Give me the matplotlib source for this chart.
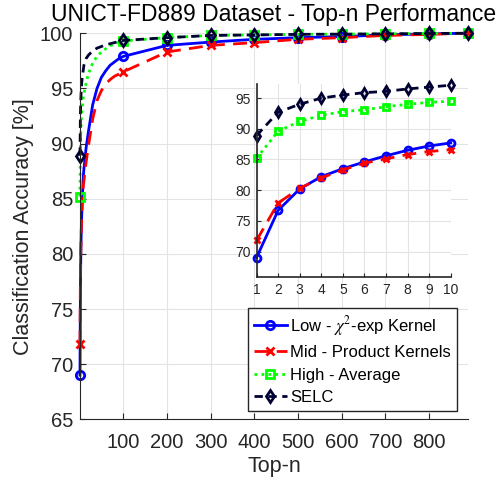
import matplotlib
matplotlib.use('Agg')
import matplotlib.pyplot as plt

plt.rcParams['font.family'] = ['Liberation Sans', 'DejaVu Sans']
plt.rcParams['mathtext.fontset'] = 'stix'

# Top-n values (1..10, the rest from the main curves)
top_n = [1, 2, 3, 4, 5, 6, 7, 8, 9, 10, 15, 20, 30, 40, 50, 60, 70, 80, 90,
         100, 200, 300, 400, 500, 600, 700, 800, 889]

acc_low = [69.0, 76.7, 80.2, 82.2, 83.5, 84.6, 85.6, 86.5, 87.2, 87.7,
           89.6, 91.0, 93.5, 95.0, 96.0, 96.6, 97.1, 97.4, 97.7,
           97.9, 98.9, 99.2, 99.45, 99.6, 99.7, 99.85, 99.95, 100.0]
acc_mid = [71.8, 77.9, 80.3, 82.0, 83.3, 84.4, 85.1, 85.8, 86.3, 86.6,
           88.3, 89.7, 92.2, 93.9, 94.8, 95.4, 95.8, 96.1, 96.3,
           96.5, 98.3, 98.9, 99.15, 99.45, 99.6, 99.8, 99.9, 100.0]
acc_high = [85.2, 89.6, 91.2, 92.2, 92.8, 93.1, 93.6, 94.0, 94.3, 94.5,
            95.5, 96.3, 97.3, 97.9, 98.3, 98.6, 98.85, 99.05, 99.2,
            99.3, 99.6, 99.8, 99.85, 99.9, 99.92, 99.95, 99.98, 100.0]
acc_selc = [88.9, 92.7, 94.0, 95.0, 95.5, 95.9, 96.1, 96.5, 96.8, 97.1,
            97.7, 98.0, 98.4, 98.65, 98.8, 98.95, 99.05, 99.15, 99.25,
            99.35, 99.6, 99.8, 99.85, 99.9, 99.92, 99.95, 99.98, 100.0]

labels = [r'Low - $\chi^2$-exp Kernel', 'Mid - Product Kernels',
          'High - Average', 'SELC']

styles = [
    dict(color='#0000ff', ls='-', marker='o'),
    dict(color='#ff0000', ls=(0, (5, 3)), marker='x'),
    dict(color='#00ff00', ls=(0, (1, 1.5)), marker='s'),
    dict(color='#000033', ls=(0, (3, 2)), marker='d'),
]
series = [acc_low, acc_mid, acc_high, acc_selc]

grid_col = '#e3e3e3'
ax_col = '#262626'

fig = plt.figure(figsize=(5.03, 4.82), dpi=100)
ax = fig.add_axes([0.159, 0.130, 0.771, 0.801])

main_marks = [i for i, n in enumerate(top_n) if n == 1 or n % 100 == 0 or n == 889]
for y, st, lab in zip(series, styles, labels):
    ax.plot(top_n, y, color=st['color'], ls=st['ls'], lw=2,
            marker=st['marker'], ms=6, mew=2, mfc='none',
            markevery=main_marks, label=lab, clip_on=False)

ax.set_xlim(1, 889)
ax.set_ylim(65, 100)
ax.set_xticks(range(100, 900, 100))
ax.set_yticks(range(65, 101, 5))
ax.grid(True, color=grid_col, lw=0.8)
ax.set_axisbelow(True)
for s in ['top', 'right']:
    ax.spines[s].set_visible(False)
for s in ['left', 'bottom']:
    ax.spines[s].set_color(ax_col)
ax.tick_params(direction='in', length=4, colors=ax_col, labelsize=14.5)
ax.tick_params(axis='y', pad=5)
ax.tick_params(axis='x', pad=10)
ax.set_xlabel('Top-n', fontsize=15.5, color=ax_col, labelpad=3)
ax.set_ylabel('Classification Accuracy [%]', fontsize=15.5, color=ax_col,
              labelpad=4)
fig.text(0.544, 0.993, 'UNICT-FD889 Dataset - Top-n Performance',
         fontsize=16.5, ha='center', va='top')

leg = ax.legend(loc='lower right', bbox_to_anchor=(0.972, 0.0215),
                borderaxespad=0, fontsize=12, fancybox=False, framealpha=1,
                edgecolor=ax_col, handlelength=2.0, handletextpad=0.2,
                labelspacing=0.45, borderpad=0.35)
leg.get_frame().set_linewidth(1)
leg.set_zorder(5)

# inset: zoom on Top-1 .. Top-10
ins = fig.add_axes([0.510, 0.4247, 0.386, 0.401])
k = top_n.index(10) + 1
for y, st in zip(series, styles):
    ins.plot(top_n[:k], y[:k], color=st['color'], ls=st['ls'], lw=2,
             marker=st['marker'], ms=5, mew=2, mfc='none', clip_on=False)
ins.set_xlim(1, 10)
ins.set_ylim(65.8, 97.3)
ins.set_xticks(range(1, 11))
ins.set_yticks(range(70, 96, 5))
ins.grid(True, color=grid_col, lw=0.8)
ins.set_axisbelow(True)
for s in ['top', 'right']:
    ins.spines[s].set_visible(False)
for s in ['left', 'bottom']:
    ins.spines[s].set_color(ax_col)
    ins.spines[s].set_linewidth(1.2)
ins.tick_params(direction='in', length=3, colors=ax_col, labelsize=10, pad=4)

fig.savefig('out.png', dpi=100)
